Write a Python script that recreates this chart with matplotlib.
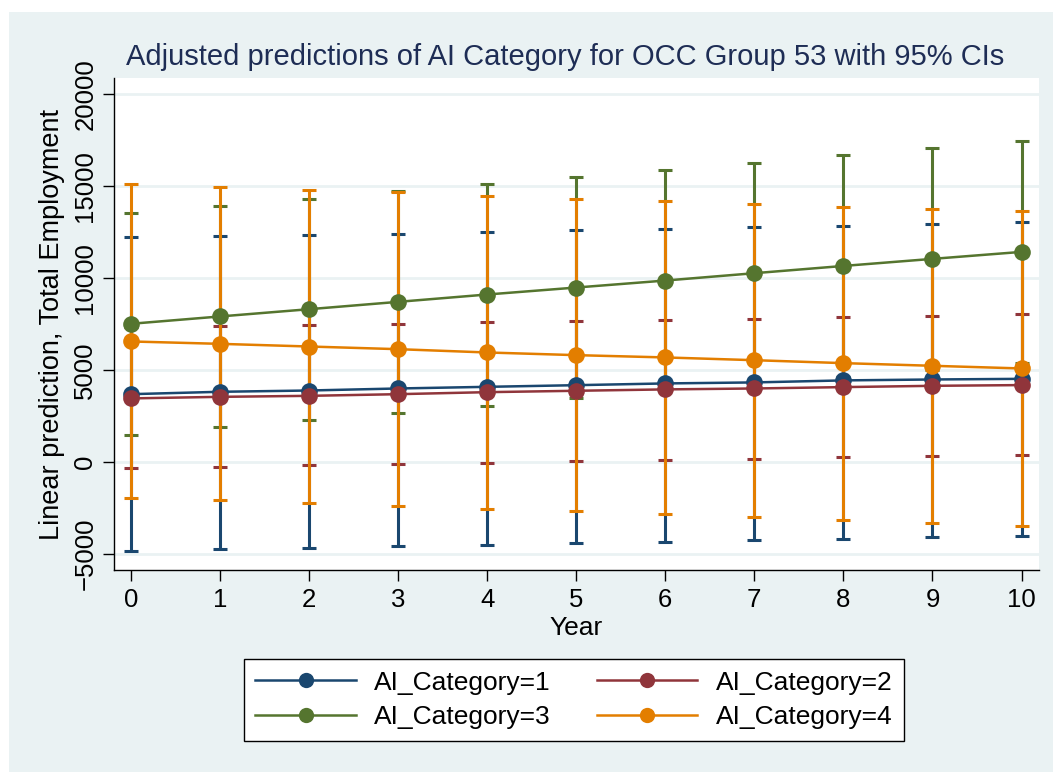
import matplotlib
matplotlib.use("Agg")
import matplotlib.pyplot as plt
from matplotlib.lines import Line2D
from matplotlib.patches import Rectangle

plt.rcParams["font.family"] = ["Liberation Sans", "DejaVu Sans"]

# Predicted employment by year with 95% CI bounds, one list per AI category
years = [0, 1, 2, 3, 4, 5, 6, 7, 8, 9, 10]

cat1_fit = [3680, 3810, 3880, 3990, 4080, 4170, 4265, 4320, 4430, 4480, 4515]
cat1_lo = [-4870, -4770, -4680, -4590, -4515, -4440, -4370, -4275, -4190, -4110, -4060]
cat1_hi = [12225, 12300, 12370, 12425, 12510, 12605, 12675, 12770, 12860, 12970, 13055]

cat2_fit = [3450, 3535, 3590, 3680, 3790, 3865, 3940, 3990, 4065, 4135, 4175]
cat2_lo = [-360, -270, -195, -125, -55, 20, 90, 145, 240, 295, 365]
cat2_hi = [7345, 7365, 7420, 7490, 7585, 7640, 7710, 7780, 7870, 7940, 8020]

cat3_fit = [7510, 7910, 8305, 8705, 9105, 9485, 9865, 10265, 10660, 11045, 11425]
cat3_lo = [1470, 1885, 2285, 2665, 3045, 3445, 3830, 4230, 4625, 5000, 5385]
cat3_hi = [13565, 13945, 14330, 14725, 15105, 15490, 15870, 16285, 16685, 17080, 17485]

cat4_fit = [6550, 6420, 6275, 6130, 5950, 5805, 5680, 5530, 5370, 5225, 5080]
cat4_lo = [-1975, -2100, -2245, -2410, -2555, -2700, -2860, -3010, -3170, -3320, -3500]
cat4_hi = [15105, 14960, 14800, 14670, 14490, 14330, 14180, 14035, 13895, 13765, 13655]

labels = ["AI_Category=1", "AI_Category=2", "AI_Category=3", "AI_Category=4"]
colors = ["#1A476F", "#90353B", "#55752F", "#E37E00"]

series = [
    (cat1_fit, cat1_lo, cat1_hi),
    (cat2_fit, cat2_lo, cat2_hi),
    (cat3_fit, cat3_lo, cat3_hi),
    (cat4_fit, cat4_lo, cat4_hi),
]

W, H = 1053, 772
fig = plt.figure(figsize=(W / 100, H / 100), dpi=100)
fig.patch.set_facecolor("white")

# light bluish-gray graph region with a thin white border
fig.patches.append(Rectangle((9 / W, 0), 1 - 9 / W, 1 - 12 / H,
                             transform=fig.transFigure, facecolor="#EAF2F3",
                             edgecolor="none", zorder=-10))

left, right, top, bottom = 114, 1039, 78, 570
ax = fig.add_axes([left / W, (H - bottom) / H, (right - left) / W, (bottom - top) / H])
ax.set_facecolor("white")

ax.set_xlim(-0.188, 10.196)
ax.set_ylim(-5890, 20890)
ax.set_xticks(years)
ax.set_yticks([-5000, 0, 5000, 10000, 15000, 20000])
ax.yaxis.grid(True, color="#EAF2F3", linewidth=2)
ax.set_axisbelow(True)

for side in ["top", "right"]:
    ax.spines[side].set_visible(False)
for side in ["left", "bottom"]:
    ax.spines[side].set_color("black")
    ax.spines[side].set_linewidth(1.0)

ax.tick_params(axis="both", length=8, width=1.0, labelsize=18.5, colors="black")
ax.tick_params(axis="x", pad=5)
ax.tick_params(axis="y", pad=4)
for lab in ax.get_yticklabels():
    lab.set_rotation(90)
    lab.set_va("center")

# confidence interval caps first, then the connected predictions on top
for (fit, lo, hi), c in zip(series, colors):
    mid = [(a + b) / 2 for a, b in zip(lo, hi)]
    half = [(b - a) / 2 for a, b in zip(lo, hi)]
    ax.errorbar(years, mid, yerr=half, fmt="none", ecolor=c,
                elinewidth=2.2, capsize=4.7, capthick=2.2, zorder=2)

for (fit, lo, hi), c in zip(series, colors):
    ax.plot(years, fit, color=c, linewidth=1.8, marker="o", markersize=12,
            markeredgewidth=0, zorder=3, clip_on=False)

ax.set_xlabel("Year", fontsize=19, labelpad=3)
ax.set_ylabel("Linear prediction, Total Employment", fontsize=19.5, labelpad=6)

fig.text(565 / W, 1 - 57 / H,
         "Adjusted predictions of AI Category for OCC Group 53 with 95% CIs",
         ha="center", va="center", fontsize=21, color="#1E2D55")

# legend reads row-wise: 1, 2 on top, 3, 4 below
handles = [Line2D([], [], color=c, linewidth=1.8, marker="o", markersize=11,
                  markeredgewidth=0) for c in colors]
order = [0, 2, 1, 3]
leg = fig.legend([handles[i] for i in order], [labels[i] for i in order],
                 ncol=2, loc="center", bbox_to_anchor=(574 / W, 1 - 700 / H),
                 fontsize=19, frameon=True, fancybox=False, edgecolor="black",
                 handlelength=3.8, handletextpad=0.7, columnspacing=1.75,
                 labelspacing=0.4, borderpad=0.45)
leg.get_frame().set_linewidth(1.0)
leg.get_frame().set_facecolor("white")
leg.get_frame().set_alpha(1.0)

fig.savefig("out.png", dpi=100, facecolor=fig.get_facecolor())
